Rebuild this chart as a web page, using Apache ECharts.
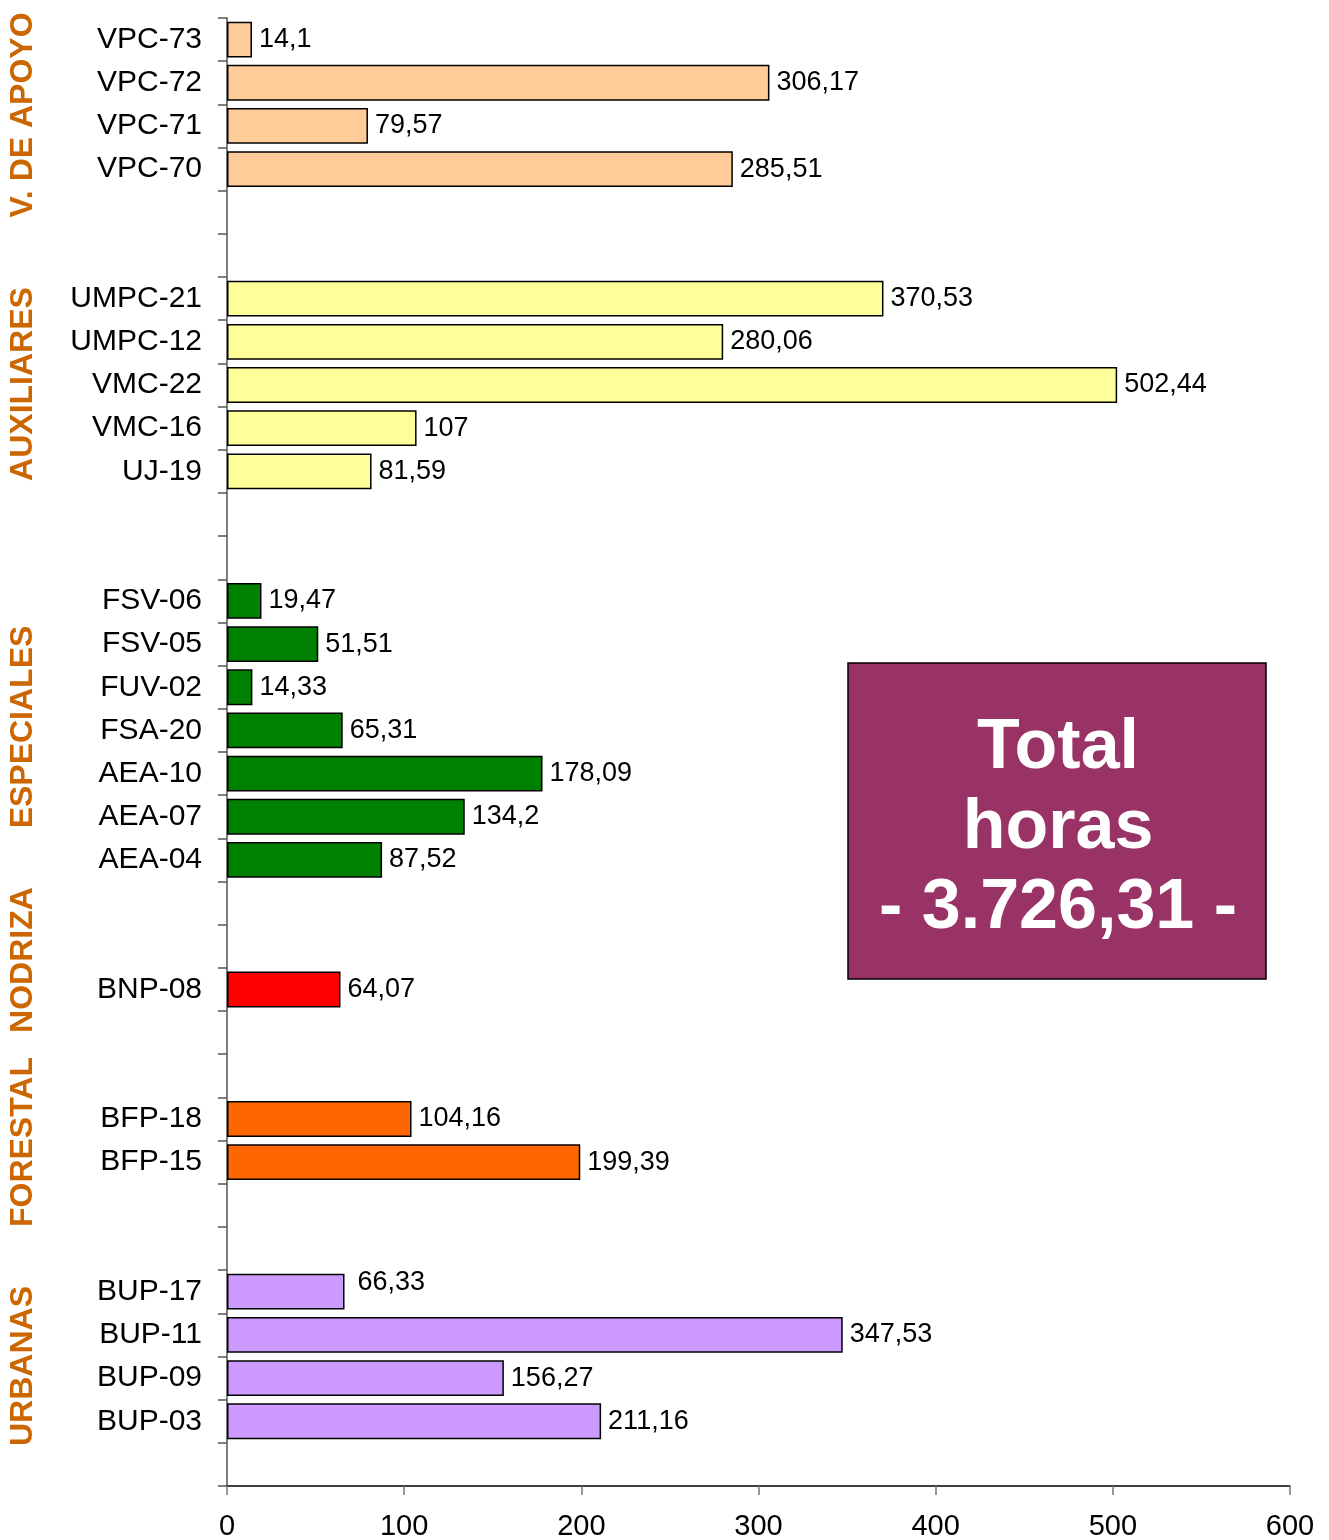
<!DOCTYPE html>
<html>
<head>
<meta charset="utf-8">
<script src="https://cdn.jsdelivr.net/npm/echarts@6/dist/echarts.min.js"></script>
<style>
  html, body { margin: 0; padding: 0; background: #fff; }
  #main { width: 1329px; height: 1540px; }
</style>
</head>
<body>
<div id="main"></div>
<script>
(function () {

  // one slot per row of the axis, '' = empty spacer row between groups
  var categories = [
    'VPC-73', 'VPC-72', 'VPC-71', 'VPC-70', '', '',
    'UMPC-21', 'UMPC-12', 'VMC-22', 'VMC-16', 'UJ-19', '', '',
    'FSV-06', 'FSV-05', 'FUV-02', 'FSA-20', 'AEA-10', 'AEA-07', 'AEA-04', '', '',
    'BNP-08', '', '',
    'BFP-18', 'BFP-15', '', '',
    'BUP-17', 'BUP-11', 'BUP-09', 'BUP-03', ''
  ];

  var hours = [
    14.1, 306.17, 79.57, 285.51, '-', '-',
    370.53, 280.06, 502.44, 107, 81.59, '-', '-',
    19.47, 51.51, 14.33, 65.31, 178.09, 134.2, 87.52, '-', '-',
    64.07, '-', '-',
    104.16, 199.39, '-', '-',
    66.33, 347.53, 156.27, 211.16, '-'
  ];

  // group index of each row
  var barGroup = [
    0, 0, 0, 0, null, null,
    1, 1, 1, 1, 1, null, null,
    2, 2, 2, 2, 2, 2, 2, null, null,
    3, null, null,
    4, 4, null, null,
    5, 5, 5, 5, null
  ];

  var groupNames = ['V. DE APOYO', 'AUXILIARES', 'ESPECIALES', 'NODRIZA', 'FORESTAL', 'URBANAS'];
  var groupColors = ['#FFCC99', '#FFFF99', '#008000', '#FF0000', '#FF6600', '#CC99FF'];

  var xTicks = { min: 0, max: 600, interval: 100 };

  // layout of the vertical group titles (pixel centre on the left margin)
  var groupLabelY = [115, 384, 727, 960, 1142, 1366];

  var FONT = 'Liberation Sans';

  function comma(v) {
    return String(v).replace('.', ',');
  }

  // 3726.31 -> "3.726,31"
  function esNumber(v) {
    var parts = v.toFixed(2).split('.');
    var intPart = parts[0].replace(/\B(?=(\d{3})+(?!\d))/g, '.');
    return intPart + ',' + parts[1];
  }

  var total = 0;
  hours.forEach(function (h) {
    if (typeof h === 'number') total += h;
  });

  var barData = hours.map(function (h, i) {
    var g = barGroup[i];
    var item = {
      value: h,
      itemStyle: { color: g === null ? 'transparent' : groupColors[g] }
    };
    if (categories[i] === 'BUP-17') {
      // label was moved up by hand in the original
      item.label = { offset: [6, -9] };
    }
    return item;
  });

  var graphics = groupNames.map(function (name, i) {
    return {
      type: 'text',
      x: 23,
      y: groupLabelY[i],
      rotation: Math.PI / 2,
      style: {
        text: name,
        fill: '#CC6600',
        fontSize: 32,
        fontWeight: 'bold',
        fontFamily: FONT,
        align: 'center',
        verticalAlign: 'middle'
      }
    };
  });

  graphics.push({
    type: 'group',
    children: [{
      type: 'rect',
      shape: { x: 848, y: 663, width: 418, height: 316 },
      style: { fill: '#993366', stroke: '#000', lineWidth: 1.5 }
    }, {
      type: 'text',
      x: 1058,
      y: 829,
      style: {
        text: 'Total\nhoras\n- ' + esNumber(total) + ' -',
        fill: '#fff',
        fontSize: 70,
        fontWeight: 'bold',
        fontFamily: FONT,
        lineHeight: 80,
        align: 'center',
        verticalAlign: 'middle'
      }
    }]
  });

  var myChart = echarts.init(document.getElementById('main'));

  var option = {
    animation: false,
    backgroundColor: '#fff',
    textStyle: { fontFamily: FONT },
    grid: { left: 227, right: 39, top: 18, bottom: 54, outerBoundsMode: 'none' },
    xAxis: {
      type: 'value',
      min: xTicks.min,
      max: xTicks.max,
      interval: xTicks.interval,
      splitLine: { show: false },
      axisLine: { show: true, lineStyle: { color: '#000', width: 1.5 } },
      axisTick: { show: true, length: 9, lineStyle: { color: '#777', width: 1.5 } },
      axisLabel: { color: '#000', fontSize: 29, margin: 26, fontFamily: FONT }
    },
    yAxis: {
      type: 'category',
      inverse: true,
      data: categories,
      axisLine: { show: true, lineStyle: { color: '#555', width: 1.5 } },
      axisTick: { show: true, interval: 0, length: 9, lineStyle: { color: '#555', width: 1.5 } },
      axisLabel: { interval: 0, color: '#000', fontSize: 30, margin: 25, fontFamily: FONT, padding: [3, 0, 0, 0] }
    },
    series: [{
      type: 'bar',
      data: barData,
      barCategoryGap: '17%',
      itemStyle: { borderColor: '#000', borderWidth: 1.5 },
      label: {
        show: true,
        position: 'right',
        distance: 7,
        color: '#000',
        fontSize: 27,
        fontFamily: FONT,
        padding: [3, 0, 0, 0],
        formatter: function (p) { return comma(p.value); }
      }
    }],
    graphic: graphics
  };

  myChart.setOption(option);

})();
</script>
</body>
</html>
